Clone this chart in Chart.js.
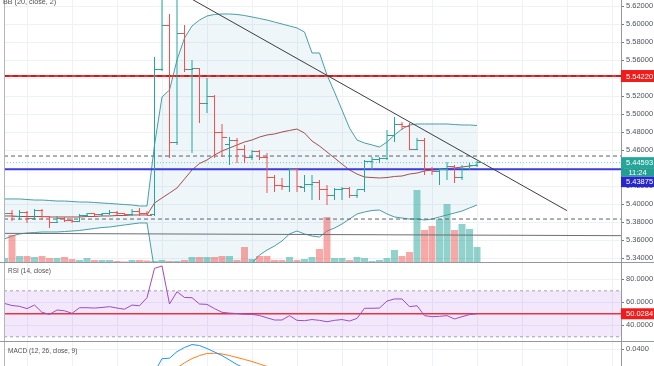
<!DOCTYPE html>
<html>
<head>
<meta charset="utf-8">
<script src="https://cdn.jsdelivr.net/npm/chart.js@4.4.1/dist/chart.umd.min.js"></script>
<style>
html,body{margin:0;padding:0;background:#fff;width:654px;height:366px;overflow:hidden;}
canvas{position:absolute;left:0;}
</style>
</head>
<body>
<canvas id="main" width="654" height="262" style="top:0px;width:654px;height:262px"></canvas>
<canvas id="rsi" width="654" height="79" style="top:262px;width:654px;height:79px"></canvas>
<canvas id="macd" width="654" height="80" style="top:341px;width:654px;height:80px"></canvas>
<script>
// ---------------- data ----------------
const candle = Array.from({length: 64}, (_, i) => i);
const open = [5.3878,5.3900,5.3856,5.3911,5.3844,5.3933,5.3856,5.3800,5.3844,5.3822,
  5.3811,5.3867,5.3889,5.3878,5.3889,5.3911,5.3889,5.3878,5.3922,5.3889,
  5.3878,5.5500,5.5978,5.4678,5.5889,5.5489,5.5511,5.5122,5.5189,5.4800,
  5.4656,5.4711,5.4611,5.4522,5.4578,5.4522,5.4300,5.4211,5.4189,5.4378,
  5.4178,5.4222,5.4244,5.4156,5.4100,5.4156,5.4167,5.4100,5.4156,5.4467,
  5.4500,5.4511,5.4756,5.4878,5.4856,5.4611,5.4711,5.4400,5.4356,5.4378,
  5.4422,5.4289,5.4400,5.4433];
const high = [5.3922,5.3933,5.3933,5.3922,5.3944,5.3944,5.3867,5.3867,5.3856,5.3844,
  5.3889,5.3900,5.3900,5.3900,5.3933,5.3922,5.3900,5.3944,5.3956,5.3922,
  5.5633,5.6378,5.6111,5.6378,5.5989,5.5600,5.5511,5.5400,5.5211,5.4889,
  5.4744,5.4733,5.4656,5.4600,5.4600,5.4567,5.4322,5.4289,5.4400,5.4389,
  5.4322,5.4322,5.4267,5.4211,5.4178,5.4189,5.4189,5.4156,5.4489,5.4522,
  5.4522,5.4822,5.4967,5.4911,5.4900,5.4733,5.4733,5.4411,5.4400,5.4467,
  5.4433,5.4433,5.4456,5.4478];
const low = [5.3856,5.3811,5.3822,5.3789,5.3822,5.3822,5.3733,5.3789,5.3800,5.3789,
  5.3800,5.3856,5.3856,5.3867,5.3878,5.3878,5.3867,5.3867,5.3867,5.3878,
  5.3867,5.5478,5.4511,5.4656,5.5467,5.4567,5.4900,5.5011,5.4511,5.4522,
  5.4433,5.4456,5.4456,5.4489,5.4489,5.4122,5.4133,5.4156,5.4133,5.4133,
  5.4133,5.4044,5.4044,5.3989,5.4044,5.4044,5.4067,5.4067,5.4133,5.4378,
  5.4456,5.4489,5.4689,5.4822,5.4600,5.4600,5.4322,5.4322,5.4211,5.4267,
  5.4233,5.4267,5.4378,5.4411];
const close = [5.3900,5.3856,5.3911,5.3844,5.3933,5.3856,5.3800,5.3844,5.3822,5.3811,
  5.3867,5.3889,5.3878,5.3889,5.3911,5.3889,5.3878,5.3922,5.3889,5.3875,
  5.5500,5.5978,5.4678,5.5889,5.5500,5.5511,5.5122,5.5189,5.4800,5.4744,
  5.4711,5.4611,5.4522,5.4578,5.4522,5.4300,5.4211,5.4189,5.4378,5.4200,
  5.4222,5.4244,5.4156,5.4100,5.4156,5.4167,5.4100,5.4156,5.4467,5.4500,
  5.4511,5.4756,5.4878,5.4856,5.4611,5.4711,5.4400,5.4356,5.4378,5.4422,
  5.4289,5.4400,5.4433,5.44593];
const volume = [4,27,6,6,5,6,4,4,5,3, 2,4,2,2,2,1,0.5,2,2,1.5,
  1,2,1,1,2,5,5,5,5,6, 6,2,15,3,6,6,2,2,5,2,
  3,5,13,45,4,4,2,5,4,1, 2,4,12,6,10,72,32,36,43,58,
  32,38,33,15];
const bbUpper = [5.4056,5.4056,5.4056,5.4050,5.4044,5.4044,5.4039,5.4033,5.4033,5.4028,
  5.4022,5.4022,5.4017,5.4011,5.4006,5.4000,5.3994,5.3989,5.3978,5.3978,
  5.4656,5.5189,5.5267,5.5600,5.5844,5.5978,5.6044,5.6089,5.6106,5.6111,
  5.6111,5.6106,5.6094,5.6078,5.6061,5.6044,5.6022,5.6000,5.5978,5.5956,
  5.5911,5.5678,5.5678,5.5433,5.5244,5.5044,5.4844,5.4711,5.4678,5.4656,
  5.4633,5.4689,5.4767,5.4833,5.4878,5.4889,5.4889,5.4889,5.4889,5.4889,
  5.4883,5.4878,5.4878,5.4872];
const bbBasis = [5.3867,5.3867,5.3861,5.3861,5.3861,5.3861,5.3856,5.3856,5.3856,5.3856,
  5.3856,5.3861,5.3861,5.3867,5.3867,5.3872,5.3872,5.3878,5.3878,5.3878,
  5.4011,5.4067,5.4122,5.4178,5.4278,5.4378,5.4450,5.4489,5.4544,5.4589,
  5.4622,5.4656,5.4689,5.4711,5.4744,5.4767,5.4778,5.4800,5.4817,5.4833,
  5.4789,5.4700,5.4644,5.4578,5.4511,5.4444,5.4378,5.4333,5.4300,5.4294,
  5.4289,5.4294,5.4306,5.4311,5.4333,5.4344,5.4367,5.4378,5.4383,5.4394,
  5.4400,5.4411,5.4422,5.4433];
const bbLower = [5.3611,5.3644,5.3667,5.3678,5.3683,5.3689,5.3689,5.3689,5.3694,5.3700,
  5.3706,5.3717,5.3728,5.3739,5.3744,5.3756,5.3767,5.3778,5.3789,5.3789,
  5.3267,5.2922,5.2956,5.2733,5.2689,5.2778,5.2867,5.2889,5.2983,5.3067,
  5.3133,5.3206,5.3283,5.3344,5.3433,5.3489,5.3533,5.3589,5.3667,5.3700,
  5.3667,5.3644,5.3633,5.3700,5.3733,5.3778,5.3833,5.3889,5.3911,5.3928,
  5.3933,5.3889,5.3856,5.3844,5.3833,5.3833,5.3822,5.3833,5.3856,5.3878,
  5.3900,5.3922,5.3956,5.3989];
const rsi = [59,57.2,56.5,54.5,57.6,51.3,49.5,53.3,52.6,50.4,
  55.3,55.3,55,55.5,56.2,55,54,57.6,57,64,
  89.5,91.6,58.5,69.2,64.2,64,58.5,58.2,54.5,51.3,
  50.6,50.2,49.6,49.5,48.5,46.5,44.6,44.6,48.4,44.3,
  44,45,44.3,43.1,44.3,45,43.7,46,54.8,54.8,
  55,61.1,62.9,62.9,56.2,57,48.4,47.5,47.8,48.4,
  45.5,47.5,49.3,50.03];
const macdLine = [0.0008,0.0006,0.0005,0.0003,0.0004,0.0002,0.0000,-0.0002,-0.0003,-0.0004,
  -0.0004,-0.0003,-0.0003,-0.0002,-0.0001,-0.0001,-0.0001,0.0000,0.0001,0.0001,
  0.0200,0.0316,0.0320,0.0377,0.0413,0.0439,0.0430,0.0404,0.0374,0.0343,
  0.0304,0.0265,0.0235,0.0200,0.0170,0.0135,0.0100,0.0070,0.0050,0.0030,
  0.0010,0.0000,-0.0010,-0.0020,-0.0025,-0.0030,-0.0035,-0.0035,-0.0020,-0.0010,
  0.0000,0.0020,0.0040,0.0050,0.0050,0.0050,0.0040,0.0030,0.0020,0.0015,
  0.0010,0.0008,0.0007,0.0007];
const macdSignal = [0.0005,0.0005,0.0005,0.0004,0.0004,0.0004,0.0003,0.0002,0.0001,0.0000,
  -0.0001,-0.0001,-0.0002,-0.0002,-0.0002,-0.0001,-0.0001,-0.0001,-0.0001,0.0000,
  0.0050,0.0110,0.0175,0.0235,0.0280,0.0317,0.0343,0.0361,0.0363,0.0357,
  0.0343,0.0326,0.0309,0.0291,0.0270,0.0248,0.0222,0.0195,0.0170,0.0145,
  0.0120,0.0095,0.0075,0.0055,0.0040,0.0025,0.0013,0.0003,-0.0003,-0.0006,
  -0.0008,-0.0008,-0.0003,0.0005,0.0013,0.0020,0.0025,0.0028,0.0029,0.0028,
  0.0026,0.0023,0.0020,0.0018];
const priceTicks = [5.34,5.36,5.38,5.40,5.42,5.44,5.46,5.48,5.50,5.52,5.54,5.56,5.58,5.60,5.62];
const rsiTicks = [40,60,80];
const macdTicks = [-0.02,0,0.02,0.04];
const resistanceLevel = 5.5422;
const blueLevel = 5.43875;
const lastPrice = 5.44593;
const dashedLevels = [5.4533, 5.3833];
const supportY = [5.3674, 5.3648];
const trendX = [25, 75];
const trendY = [5.6275, 5.3926];
const rsiBands = [70, 30];
const rsiLevel = 50.0284;
const countdown = '11:24';

// ---------------- layout / style ----------------
const X_MIN = -0.0667, X_MAX = 82.2, GRID0 = 3.13, GRIDSTEP = 6;
const TEAL = '#26a69a', RED = '#ef5350';
const FONT = "'Liberation Sans', Arial, sans-serif";
Chart.defaults.font.family = FONT;

const up = i => close[i] >= open[i];
const colorOf = i => (i !== undefined && up(i)) ? TEAL : RED;
const xy = arr => arr.map((v, i) => ({x: candle[i], y: v}));
const span = (a, b) => [{x: X_MIN, y: a}, {x: X_MAX, y: (b === undefined ? a : b)}];

function tickImage(color, left) {
  const c = document.createElement('canvas'); c.width = 9; c.height = 1;
  const g = c.getContext('2d'); g.fillStyle = color; g.fillRect(left ? 0 : 4, 0, 5, 1);
  return c;
}
const TICK = {
  L: {[TEAL]: tickImage(TEAL, true), [RED]: tickImage(RED, true)},
  R: {[TEAL]: tickImage(TEAL, false), [RED]: tickImage(RED, false)}
};

function xScale() {
  return {type: 'linear', min: X_MIN, max: X_MAX, offset: false,
    afterBuildTicks: s => { const t = []; for (let v = GRID0; v < X_MAX; v += GRIDSTEP) t.push({value: v}); s.ticks = t; },
    ticks: {display: false},
    grid: {color: '#eef1f6', drawTicks: false, offset: false},
    border: {display: false},
    afterFit: s => { s.height = 0; s.paddingLeft = 0; s.paddingRight = 0; }};
}
function yScale(min, max, ticks, dec) {
  return {position: 'right', min, max,
    afterBuildTicks: s => { s.ticks = ticks.map(v => ({value: v})); },
    ticks: {callback: v => Number(v).toFixed(dec), font: {size: 7.5}, color: '#50535e', padding: 2, autoSkip: false, maxRotation: 0},
    grid: {color: '#eef1f6', tickColor: '#787b86', tickLength: 3},
    border: {display: true, color: '#9598a1'},
    afterFit: s => { s.width = 33; s.paddingTop = 0; s.paddingBottom = 0; }};
}
function baseOptions(scales) {
  return {responsive: false, animation: false, events: [],
    layout: {autoPadding: false, padding: {left: 4, right: 0, top: 0, bottom: 0}},
    plugins: {legend: {display: false}, tooltip: {enabled: false}},
    scales};
}
const lineDs = (data, color, width, extra) => Object.assign({type: 'line', data, borderColor: color, borderWidth: width,
  pointRadius: 0, fill: false, tension: 0}, extra || {});

function valueBox(g, x0, top, h, bg, text, center) {
  g.fillStyle = bg; g.fillRect(x0, top, 654 - x0, h);
  g.fillStyle = '#ffffff'; g.font = "7.5px " + FONT; g.textBaseline = 'middle';
  if (center) { g.textAlign = 'center'; g.fillText(text, (x0 + 654) / 2, top + h / 2 + 0.5); }
  else { g.textAlign = 'left'; g.fillText(text, x0 + 5, top + h / 2 + 0.5); }
}
function frame(c, g, topLine) {
  const a = c.chartArea;
  g.strokeStyle = '#b2b5be'; g.lineWidth = 1;
  g.beginPath(); g.moveTo(a.left + 0.5, 0); g.lineTo(a.left + 0.5, c.height); g.stroke();
  if (topLine) { g.strokeStyle = '#9598a1'; g.beginPath(); g.moveTo(0, 0.5); g.lineTo(654, 0.5); g.stroke(); }
}
const whiteBg = {id: 'whiteBg', beforeDraw(c) { const g = c.ctx; g.save(); g.fillStyle = '#fff'; g.fillRect(0, 0, c.width, c.height); g.restore(); },
  beforeDatasetsDraw(c) { c.ctx.imageSmoothingEnabled = false; }};

// ---------------- main pane ----------------
const mainDeco = {id: 'mainDeco', afterDraw(c) {
  const g = c.ctx, a = c.chartArea, y = c.scales.y;
  g.save();
  frame(c, g, false);
  g.fillStyle = '#4f4f4f'; g.font = "7.2px " + FONT; g.textAlign = 'left'; g.textBaseline = 'alphabetic';
  g.fillText('BB (20, close, 2)', 3, 4);
  const pr = y.getPixelForValue(resistanceLevel);
  valueBox(g, a.right, pr - 6, 12, '#f01c1c', resistanceLevel.toFixed(5));
  const pl = y.getPixelForValue(lastPrice);
  valueBox(g, a.right, pl - 5.5, 11, TEAL, lastPrice.toFixed(5));
  valueBox(g, a.right, pl + 5.5, 8.5, '#229e92', countdown, true);
  const pb = Math.max(y.getPixelForValue(blueLevel) - 5.5, pl + 14);
  valueBox(g, a.right, pb, 10.5, '#2727cc', blueLevel.toFixed(5));
  g.restore();
}};

new Chart(document.getElementById('main'), {
  type: 'line',
  data: {datasets: [
    lineDs(xy(bbUpper), '#4a9fa5', 1, {fill: '+1', backgroundColor: 'rgba(70,160,190,0.09)', order: 30}),
    lineDs(xy(bbLower), '#4a9fa5', 1, {order: 30}),
    lineDs(xy(bbBasis), '#a3504d', 1, {order: 29}),
    {type: 'bar', data: xy(volume), yAxisID: 'yv', backgroundColor: candle.map(i => up(i) ? 'rgba(38,166,154,0.5)' : 'rgba(239,83,80,0.5)'),
      barThickness: 7, grouped: false, inflateAmount: 0, borderWidth: 0, order: 28},
    lineDs(span(dashedLevels[0]), '#5d606b', 1, {borderDash: [4, 3], order: 26}),
    lineDs(span(dashedLevels[1]), '#5d606b', 1, {borderDash: [4, 3], order: 26}),
    lineDs(span(supportY[0], supportY[1]), '#6b6e78', 1, {order: 26}),
    lineDs(span(resistanceLevel), '#f23030', 2, {order: 26}),
    lineDs(span(resistanceLevel), '#9c0d0d', 1, {borderDash: [5, 4], order: 25}),
    lineDs(span(lastPrice), 'rgba(38,166,154,0.6)', 1, {borderDash: [1, 2], order: 26}),
    lineDs(span(blueLevel), '#3c3ce0', 2, {order: 26}),
    lineDs(trendX.map((x, k) => ({x, y: trendY[k]})), '#3d3d3d', 1, {order: 5}),
    {type: 'bar', data: candle.map(i => ({x: i, y: [low[i], high[i]]})), backgroundColor: candle.map(colorOf),
      barThickness: 1, grouped: false, inflateAmount: 0, borderWidth: 0, order: 4},
    {type: 'line', showLine: false, data: xy(open), pointStyle: ctx => TICK.L[colorOf(ctx.dataIndex)], pointRadius: 1, order: 3},
    {type: 'line', showLine: false, data: xy(close), pointStyle: ctx => TICK.R[colorOf(ctx.dataIndex)], pointRadius: 1, order: 3}
  ]},
  options: baseOptions({
    x: xScale(),
    y: yScale(5.33556, 5.62667, priceTicks, 5),
    yv: {display: false, min: 0, max: 262}
  }),
  plugins: [whiteBg, mainDeco]
});

// ---------------- RSI pane ----------------
const rsiDeco = {id: 'rsiDeco', afterDraw(c) {
  const g = c.ctx, a = c.chartArea, y = c.scales.y;
  g.save();
  frame(c, g, true);
  g.fillStyle = '#4f4f4f'; g.font = "6.5px " + FONT; g.textAlign = 'left'; g.textBaseline = 'alphabetic';
  g.fillText('RSI (14, close)', 8, 11);
  const p = y.getPixelForValue(rsiLevel);
  valueBox(g, a.right, p - 5.5, 11, '#f01c1c', rsiLevel.toFixed(4));
  g.restore();
}};
new Chart(document.getElementById('rsi'), {
  type: 'line',
  data: {datasets: [
    lineDs(span(rsiBands[0]), '#a3a6af', 1, {borderDash: [3, 3], fill: '+1', backgroundColor: 'rgba(160,70,230,0.13)', order: 10}),
    lineDs(span(rsiBands[1]), '#a3a6af', 1, {borderDash: [3, 3], order: 10}),
    lineDs(span(rsiLevel), '#f0303f', 1.5, {order: 8}),
    lineDs(xy(rsi), '#9a4fc2', 1, {order: 5})
  ]},
  options: baseOptions({x: xScale(), y: yScale(26.35, 95.04, rsiTicks, 4)}),
  plugins: [whiteBg, rsiDeco]
});

// ---------------- MACD pane ----------------
const macdDeco = {id: 'macdDeco', afterDraw(c) {
  const g = c.ctx;
  g.save();
  frame(c, g, true);
  g.fillStyle = '#4f4f4f'; g.font = "6.5px " + FONT; g.textAlign = 'left'; g.textBaseline = 'alphabetic';
  g.fillText('MACD (12, 26, close, 9)', 8, 11.5);
  g.restore();
}};
new Chart(document.getElementById('macd'), {
  type: 'line',
  data: {datasets: [
    lineDs(xy(macdSignal), '#ff7d1a', 1, {order: 6}),
    lineDs(xy(macdLine), '#2196f3', 1, {order: 5})
  ]},
  options: baseOptions({x: xScale(), y: yScale(-0.0226, 0.04696, macdTicks, 4)}),
  plugins: [whiteBg, macdDeco]
});
</script>
</body>
</html>
